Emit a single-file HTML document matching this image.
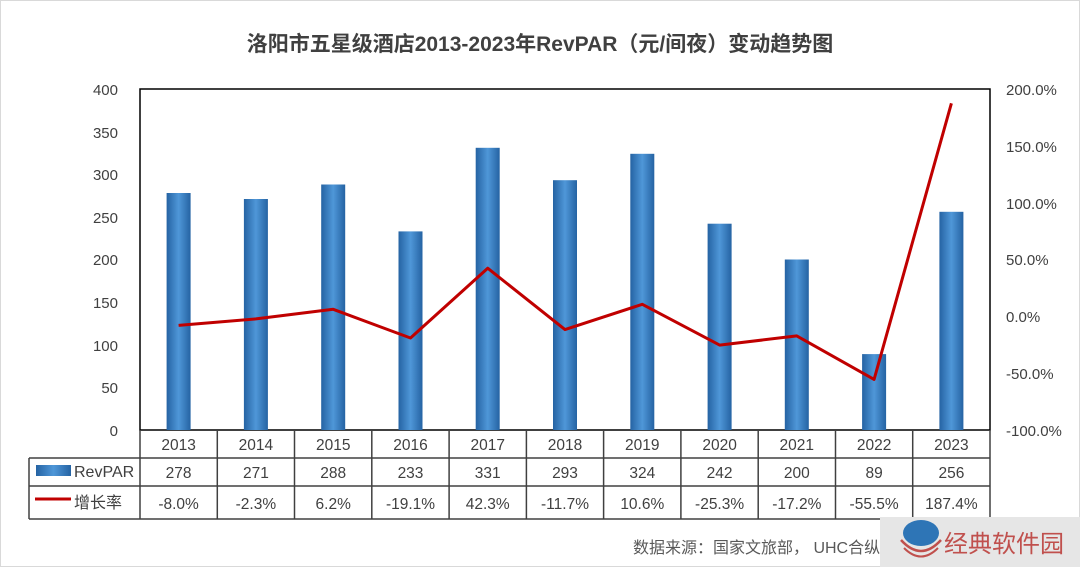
<!DOCTYPE html>
<html><head><meta charset="utf-8"><style>
body{margin:0;background:#fff;}
svg text{font-family:"Liberation Sans","Noto Sans CJK SC",sans-serif;}
</style></head><body>
<svg width="1080" height="567" viewBox="0 0 1080 567" xmlns="http://www.w3.org/2000/svg">
<defs>
<linearGradient id="bg" x1="0" x2="1" y1="0" y2="0">
<stop offset="0" stop-color="#2563a3"/><stop offset="0.5" stop-color="#4f97d8"/><stop offset="1" stop-color="#2563a3"/>
</linearGradient>
</defs>
<rect x="0.5" y="0.5" width="1079" height="566" fill="#fff" stroke="#d9d9d9"/>
<text x="540" y="51" text-anchor="middle" font-size="21" font-weight="bold" fill="#404040">洛阳市五星级酒店2013-2023年RevPAR（元/间夜）变动趋势图</text>
<g font-size="15" fill="#404040" text-anchor="end">
<text x="118" y="95">400</text><text x="118" y="138">350</text><text x="118" y="180">300</text><text x="118" y="223">250</text><text x="118" y="265">200</text><text x="118" y="308">150</text><text x="118" y="351">100</text><text x="118" y="393">50</text><text x="118" y="436">0</text>
</g>
<g font-size="15" fill="#404040" text-anchor="start">
<text x="1006" y="95">200.0%</text><text x="1006" y="152">150.0%</text><text x="1006" y="209">100.0%</text><text x="1006" y="265">50.0%</text><text x="1006" y="322">0.0%</text><text x="1006" y="379">-50.0%</text><text x="1006" y="436">-100.0%</text>
</g>
<rect x="140" y="89" width="850" height="341" fill="none" stroke="#000" stroke-width="1.5"/>
<g fill="url(#bg)">
<rect x="166.6" y="193" width="24" height="237"/>
<rect x="243.9" y="199" width="24" height="231"/>
<rect x="321.2" y="184.5" width="24" height="245.5"/>
<rect x="398.5" y="231.4" width="24" height="198.6"/>
<rect x="475.7" y="147.8" width="24" height="282.2"/>
<rect x="553" y="180.2" width="24" height="249.8"/>
<rect x="630.3" y="153.8" width="24" height="276.2"/>
<rect x="707.6" y="223.7" width="24" height="206.3"/>
<rect x="784.8" y="259.5" width="24" height="170.5"/>
<rect x="862.1" y="354.1" width="24" height="75.9"/>
<rect x="939.4" y="211.8" width="24" height="218.2"/>
</g>
<polyline fill="none" stroke="#c00000" stroke-width="3" stroke-linejoin="round" points="178.6,325.4 255.9,318.9 333.2,309.3 410.5,338 487.7,268.2 565,329.6 642.3,304.3 719.6,345.1 796.8,335.9 874.1,379.4 951.4,103.3"/>
<g stroke="#404040" stroke-width="1.5" fill="none">
<line x1="140" y1="430" x2="140" y2="519"/>
<line x1="29" y1="458" x2="990" y2="458"/>
<line x1="29" y1="486" x2="990" y2="486"/>
<line x1="29" y1="519" x2="990" y2="519"/>
<line x1="29" y1="458" x2="29" y2="519"/>
<line x1="990" y1="430" x2="990" y2="519"/>
<line x1="217.3" y1="430" x2="217.3" y2="519"/><line x1="294.5" y1="430" x2="294.5" y2="519"/><line x1="371.8" y1="430" x2="371.8" y2="519"/><line x1="449.1" y1="430" x2="449.1" y2="519"/><line x1="526.4" y1="430" x2="526.4" y2="519"/><line x1="603.6" y1="430" x2="603.6" y2="519"/><line x1="680.9" y1="430" x2="680.9" y2="519"/><line x1="758.2" y1="430" x2="758.2" y2="519"/><line x1="835.5" y1="430" x2="835.5" y2="519"/><line x1="912.7" y1="430" x2="912.7" y2="519"/>
</g>
<rect x="36" y="465" width="35" height="11" fill="url(#bg)"/>
<line x1="35" y1="499" x2="71" y2="499" stroke="#c00000" stroke-width="3"/>
<text x="74" y="477" font-size="16" fill="#404040">RevPAR</text>
<text x="74" y="508" font-size="16" fill="#404040">增长率</text>
<g font-size="15.5" fill="#404040" text-anchor="middle">
<text x="178.6" y="450">2013</text><text x="255.9" y="450">2014</text><text x="333.2" y="450">2015</text><text x="410.5" y="450">2016</text><text x="487.7" y="450">2017</text><text x="565" y="450">2018</text><text x="642.3" y="450">2019</text><text x="719.6" y="450">2020</text><text x="796.8" y="450">2021</text><text x="874.1" y="450">2022</text><text x="951.4" y="450">2023</text>
<text x="178.6" y="478">278</text><text x="255.9" y="478">271</text><text x="333.2" y="478">288</text><text x="410.5" y="478">233</text><text x="487.7" y="478">331</text><text x="565" y="478">293</text><text x="642.3" y="478">324</text><text x="719.6" y="478">242</text><text x="796.8" y="478">200</text><text x="874.1" y="478">89</text><text x="951.4" y="478">256</text>
<text x="178.6" y="509">-8.0%</text><text x="255.9" y="509">-2.3%</text><text x="333.2" y="509">6.2%</text><text x="410.5" y="509">-19.1%</text><text x="487.7" y="509">42.3%</text><text x="565" y="509">-11.7%</text><text x="642.3" y="509">10.6%</text><text x="719.6" y="509">-25.3%</text><text x="796.8" y="509">-17.2%</text><text x="874.1" y="509">-55.5%</text><text x="951.4" y="509">187.4%</text>
</g>
<text x="633" y="553" font-size="16" fill="#595959">数据来源：国家文旅部， UHC合纵</text>
<rect x="880" y="517" width="200" height="50" fill="#e6e6e6"/>
<ellipse cx="921" cy="533" rx="18" ry="13" fill="#2e75b6"/>
<path d="M901,540 Q921,562 941,540" fill="none" stroke="#c0504d" stroke-width="2.5"/>
<path d="M904,548 Q921,565 938,548" fill="none" stroke="#c0504d" stroke-width="2"/>
<text x="944" y="552" font-size="24" fill="#c0504d">经典软件园</text>
</svg>
</body></html>
